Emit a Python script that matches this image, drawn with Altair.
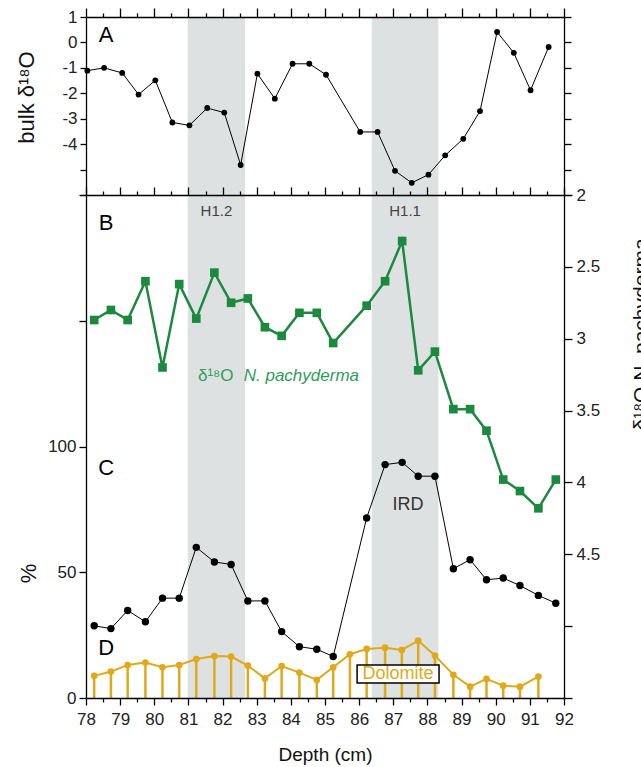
import altair as alt
import pandas as pd

# ---------------- data ----------------
depth_a = [78.04, 78.53, 79.06, 79.54, 80.03, 80.53, 81.03, 81.55, 82.05, 82.53,
           83.02, 83.53, 84.05, 84.54, 85.03, 86.03, 86.54, 87.05, 87.54, 88.03,
           88.52, 89.05, 89.54, 90.04, 90.53, 91.02, 91.55]
bulk_d18o = [-1.11, -1.0, -1.2, -2.05, -1.49, -3.15, -3.26, -2.58, -2.76, -4.82,
             -1.23, -2.21, -0.84, -0.84, -1.27, -3.52, -3.52, -5.05, -5.52, -5.2,
             -4.44, -3.79, -2.7, 0.41, -0.41, -1.88, -0.18]

depth_b = [78.24, 78.73, 79.22, 79.74, 80.24, 80.73, 81.23, 81.76, 82.25, 82.74,
           83.24, 83.73, 84.25, 84.76, 85.24, 86.22, 86.76, 87.26, 87.73, 88.22,
           88.76, 89.25, 89.73, 90.22, 90.71, 91.25, 91.76]
np_d18o = [2.87, 2.80, 2.87, 2.60, 3.20, 2.62, 2.86, 2.54, 2.75, 2.72,
           2.92, 2.98, 2.82, 2.82, 3.03, 2.77, 2.60, 2.32, 3.22, 3.09,
           3.49, 3.49, 3.64, 3.98, 4.06, 4.18, 3.98]
ird_pct = [28.7, 27.6, 34.8, 30.3, 39.7, 39.7, 59.9, 54.1, 53.1, 38.6,
           38.6, 26.4, 20.4, 19.4, 16.5, 71.6, 92.8, 93.7, 88.2, 88.2,
           51.4, 55.0, 47.0, 47.7, 44.7, 40.8, 37.7]

depth_dol = [78.24, 78.73, 79.22, 79.74, 80.24, 80.73, 81.23, 81.76, 82.25, 82.74,
             83.24, 83.73, 84.25, 84.76, 85.24, 85.73, 86.22, 86.76, 87.25, 87.73,
             88.22, 88.76, 89.25, 89.73, 90.22, 90.71, 91.25]
dolomite_pct = [8.8, 10.5, 13.1, 14.1, 12.2, 13.1, 15.5, 16.7, 16.5, 12.9,
                7.8, 12.7, 10.1, 7.2, 12.2, 17.4, 19.5, 20.0, 19.1, 22.8,
                16.9, 9.2, 4.5, 7.6, 4.9, 4.5, 8.5]

band_start = [80.98, 86.37]
band_end = [82.66, 88.32]
band_names = ["H1.2", "H1.1"]

x_ticks = [78 + 0.5 * i for i in range(29)]
a_ticks = [1, 0, -1, -2, -3, -4, -5, -6]
pct_ticks = [0, 50, 100, 150, 200]
np_ticks = [2, 2.5, 3, 3.5, 4, 4.5, 5, 5.5]

# ---------------- tables ----------------
df_a = pd.DataFrame({"depth": depth_a, "v": bulk_d18o})
df_b = pd.DataFrame({"depth": depth_b, "np": np_d18o, "ird": ird_pct})
df_d = pd.DataFrame({"depth": depth_dol, "dol": dolomite_pct})
df_band = pd.DataFrame({"x1": band_start, "x2": band_end, "name": band_names,
                        "x": [(a + b) / 2 for a, b in zip(band_start, band_end)],
                        "y": [193.5, 193.5]})

FONT = "Liberation Sans"
GREEN = "#1b8a3e"
GREEN_TXT = "#2f9d5a"
GOLD = "#e0a91a"
BAND = "#dee1e1"

W, H = 478, 681
SPLIT = 178

xs = alt.Scale(domain=[78, 92], nice=False, zero=False)
A_sc = alt.Scale(domain=[-6, 1], range=[SPLIT, 0], nice=False, zero=False)
P_sc = alt.Scale(domain=[0, 200], range=[H, SPLIT], nice=False, zero=False)
N_sc = alt.Scale(domain=[2, 5.5], range=[SPLIT, H], nice=False, zero=False)


def tsize(major, minor):
    return {"condition": {"test": "datum.value % 1 === 0", "value": major}, "value": minor}


ax_common = dict(grid=False, zindex=1, domainColor="black", tickColor="black",
                 domainWidth=1.3, tickWidth=1.3, labelFont=FONT, titleFont=FONT,
                 labelColor="#222222", titleColor="#111111", titleFontWeight="normal",
                 labelFontSize=17)

ax_bottom = alt.Axis(orient="bottom", values=x_ticks, tickSize=tsize(7, 4),
                     labelExpr="datum.value % 1 === 0 ? '' + datum.value : ''",
                     labelOverlap=False, labelFlush=False, labelPadding=6,
                     title="Depth (cm)", titleFontSize=19, titleY=62,
                     titleBaseline="alphabetic", **ax_common)
ax_top = alt.Axis(orient="top", values=x_ticks, tickSize=tsize(9, 4), labels=False,
                  title=None, **ax_common)
ax_mid = alt.Axis(orient="top", offset=-SPLIT, values=x_ticks, tickSize=tsize(8, 4),
                  labels=False, title=None, **ax_common)

ax_a_left = alt.Axis(orient="left", values=a_ticks, tickSize=6, labelPadding=3,
                     labelExpr="datum.value >= -4 ? '' + datum.value : ''",
                     title="bulk δ¹⁸O", titleFontSize=22, titleAngle=270,
                     titleX=-53, titleY=80, titleBaseline="alphabetic", **ax_common)
ax_a_right = alt.Axis(orient="right", values=a_ticks, tickSize=7, labels=False,
                      title=None, **ax_common)
ax_p_left = alt.Axis(orient="left", values=pct_ticks, tickSize=7, labelPadding=3,
                     labelExpr="datum.value <= 100 ? '' + datum.value : ''",
                     title="%", titleFontSize=22, titleAngle=270,
                     titleX=-51, titleY=556, titleBaseline="alphabetic", **ax_common)
ax_n_right = alt.Axis(orient="right", values=np_ticks, tickSize=8, labelPadding=4,
                      labelExpr="datum.value <= 4.5 ? '' + datum.value : ''",
                      title="δ¹⁸O N. pachyderma", titleFontSize=21, titleAngle=270,
                      titleX=83, titleY=317, titleBaseline="alphabetic", **ax_common)

# ---------------- layers ----------------
bands = alt.Chart(df_band).mark_rect(color=BAND).encode(
    x=alt.X("x1:Q", scale=xs, axis=ax_bottom), x2="x2:Q")

band_lbl = alt.Chart(df_band).mark_text(font=FONT, fontSize=15, color="#444444",
                                        baseline="middle").encode(
    x=alt.X("x:Q", scale=xs, axis=None),
    y=alt.Y("y:Q", scale=P_sc, axis=None), text="name:N")

dol_rule = alt.Chart(df_d).mark_rule(color=GOLD, strokeWidth=2.5).encode(
    x=alt.X("depth:Q", scale=xs, axis=None),
    y=alt.Y("dol:Q", scale=P_sc, axis=None), y2=alt.datum(0))
dol_line = alt.Chart(df_d).mark_line(color=GOLD, strokeWidth=2).encode(
    x=alt.X("depth:Q", scale=xs, axis=None),
    y=alt.Y("dol:Q", scale=P_sc, axis=None))
dol_pts = alt.Chart(df_d).mark_point(filled=True, color=GOLD, size=45, opacity=1).encode(
    x=alt.X("depth:Q", scale=xs, axis=None),
    y=alt.Y("dol:Q", scale=P_sc, axis=None))

ird_line = alt.Chart(df_b).mark_line(color="black", strokeWidth=1).encode(
    x=alt.X("depth:Q", scale=xs, axis=None),
    y=alt.Y("ird:Q", scale=P_sc, axis=ax_p_left))
ird_pts = alt.Chart(df_b).mark_point(filled=True, color="black", size=55, opacity=1).encode(
    x=alt.X("depth:Q", scale=xs, axis=None),
    y=alt.Y("ird:Q", scale=P_sc, axis=None))

np_line = alt.Chart(df_b).mark_line(color=GREEN, strokeWidth=2.5).encode(
    x=alt.X("depth:Q", scale=xs, axis=ax_mid),
    y=alt.Y("np:Q", scale=N_sc, axis=ax_n_right))
np_pts = alt.Chart(df_b).mark_point(filled=True, color=GREEN, shape="square",
                                    size=75, opacity=1).encode(
    x=alt.X("depth:Q", scale=xs, axis=None),
    y=alt.Y("np:Q", scale=N_sc, axis=None))

a_line = alt.Chart(df_a).mark_line(color="black", strokeWidth=1).encode(
    x=alt.X("depth:Q", scale=xs, axis=ax_top),
    y=alt.Y("v:Q", scale=A_sc, axis=ax_a_left))
a_pts = alt.Chart(df_a).mark_point(filled=True, color="black", size=34, opacity=1).encode(
    x=alt.X("depth:Q", scale=xs, axis=None),
    y=alt.Y("v:Q", scale=A_sc, axis=ax_a_right))

# annotations
df_lblA = pd.DataFrame({"x": [78.59], "y": [0.3], "t": ["A"]})
lblA = alt.Chart(df_lblA).mark_text(font=FONT, fontSize=22, color="black",
                                    baseline="middle").encode(
    x=alt.X("x:Q", scale=xs, axis=None), y=alt.Y("y:Q", scale=A_sc, axis=None), text="t:N")

df_lbl = pd.DataFrame({"x": [78.59, 78.59, 78.59], "y": [189.0, 91.6, 19.9],
                       "t": ["B", "C", "D"]})
lbls = alt.Chart(df_lbl).mark_text(font=FONT, fontSize=22, color="black",
                                   baseline="middle").encode(
    x=alt.X("x:Q", scale=xs, axis=None), y=alt.Y("y:Q", scale=P_sc, axis=None), text="t:N")

df_ird = pd.DataFrame({"x": [87.43], "y": [76.9], "t": ["IRD"]})
ird_lbl = alt.Chart(df_ird).mark_text(font=FONT, fontSize=18, color="#333333",
                                      baseline="middle").encode(
    x=alt.X("x:Q", scale=xs, axis=None), y=alt.Y("y:Q", scale=P_sc, axis=None), text="t:N")

df_box = pd.DataFrame({"x1": [85.94], "x2": [88.34], "y1": [13.1], "y2": [6.0],
                       "x": [87.14], "y": [9.5], "t": ["Dolomite"]})
box = alt.Chart(df_box).mark_rect(fill="white", stroke="black", strokeWidth=1.5).encode(
    x=alt.X("x1:Q", scale=xs, axis=None), x2="x2:Q",
    y=alt.Y("y1:Q", scale=P_sc, axis=None), y2="y2:Q")
box_txt = alt.Chart(df_box).mark_text(font=FONT, fontSize=18, color=GOLD,
                                      baseline="middle").encode(
    x=alt.X("x:Q", scale=xs, axis=None), y=alt.Y("y:Q", scale=P_sc, axis=None), text="t:N")

df_g1 = pd.DataFrame({"x": [81.28], "y": [125.9], "t": ["δ¹⁸O"]})
g1 = alt.Chart(df_g1).mark_text(font=FONT, fontSize=17, color=GREEN_TXT, align="left",
                                baseline="alphabetic").encode(
    x=alt.X("x:Q", scale=xs, axis=None), y=alt.Y("y:Q", scale=P_sc, axis=None), text="t:N")
df_g2 = pd.DataFrame({"x": [82.62], "y": [125.9], "t": ["N. pachyderma"]})
g2 = alt.Chart(df_g2).mark_text(font=FONT, fontSize=17, color=GREEN_TXT, align="left",
                                baseline="alphabetic", fontStyle="italic").encode(
    x=alt.X("x:Q", scale=xs, axis=None), y=alt.Y("y:Q", scale=P_sc, axis=None), text="t:N")

chart = alt.layer(
    bands, band_lbl, dol_rule, dol_line, dol_pts, ird_line, ird_pts,
    np_line, np_pts, a_line, a_pts, lblA, lbls, ird_lbl, box, box_txt, g1, g2
).resolve_scale(
    x="shared", y="independent"
).resolve_axis(
    x="independent", y="independent"
).properties(
    width=W, height=H,
    autosize=alt.AutoSizeParams(type="none"),
    padding={"left": 86, "top": 17, "right": 77, "bottom": 69},
    background="white",
).configure_view(stroke=None)

chart.save("out.html", embed_options={"renderer": "svg", "actions": False})
